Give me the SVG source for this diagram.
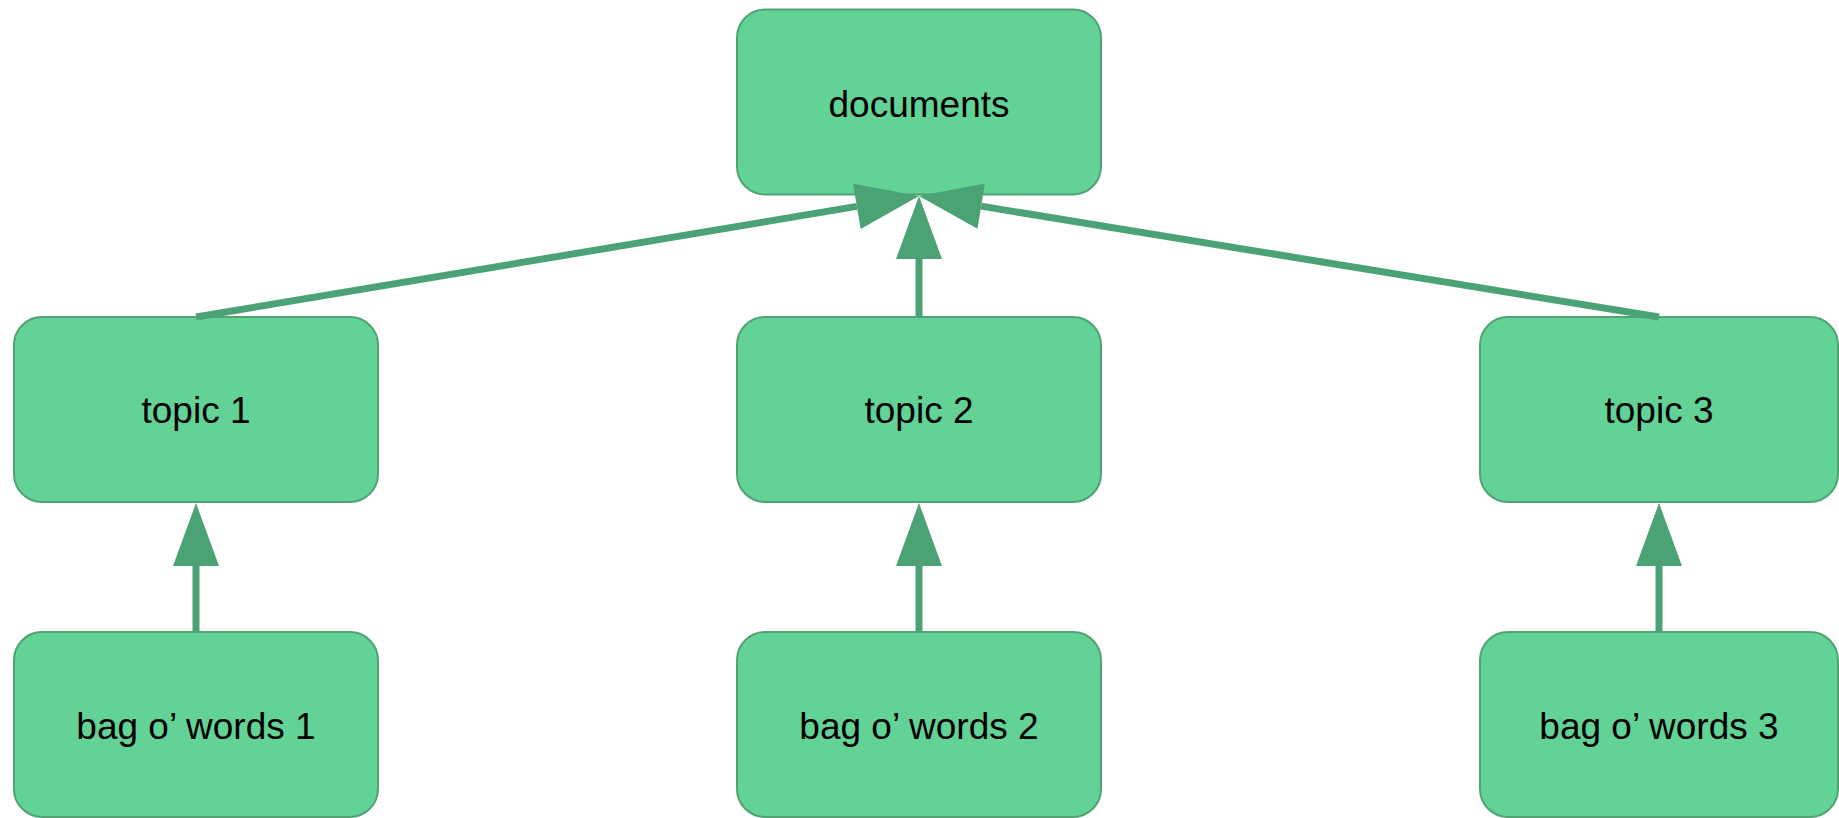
<svg xmlns="http://www.w3.org/2000/svg" width="1839" height="818" viewBox="0 0 1839 818">
<style>
.box{fill:#62D296;stroke:#52A374;stroke-width:2}
.lbl{font-family:"Liberation Sans",Arial,sans-serif;font-size:37px;fill:#000;text-anchor:middle}
.edge{stroke:#4BA274;stroke-width:7;fill:none}
</style>
<defs>
<marker id="ah" markerUnits="userSpaceOnUse" markerWidth="63" markerHeight="46" viewBox="0 -23 63 46" refX="0" refY="0" orient="auto" overflow="visible">
<path d="M0,-23 L63,0 L0,23 Z" fill="#4BA274"/>
</marker>
</defs>
<rect width="1839" height="818" fill="#fff"/>
<g id="documents"><rect class="box" x="737" y="9.5" width="364" height="185" rx="28"/><text class="lbl" x="919" y="117">documents</text></g>
<g id="topic1"><rect class="box" x="14" y="317" width="364" height="185" rx="28"/><text class="lbl" x="196" y="423">topic 1</text></g>
<g id="topic2"><rect class="box" x="737" y="317" width="364" height="185" rx="28"/><text class="lbl" x="919" y="423">topic 2</text></g>
<g id="topic3"><rect class="box" x="1480" y="317" width="358" height="185" rx="28"/><text class="lbl" x="1659" y="423">topic 3</text></g>
<g id="bag1"><rect class="box" x="14" y="632" width="364" height="185" rx="28"/><text class="lbl" x="196" y="738.5">bag o’ words 1</text></g>
<g id="bag2"><rect class="box" x="737" y="632" width="364" height="185" rx="28"/><text class="lbl" x="919" y="738.5">bag o’ words 2</text></g>
<g id="bag3"><rect class="box" x="1480" y="632" width="358" height="185" rx="28"/><text class="lbl" x="1659" y="738.5">bag o’ words 3</text></g>
<g id="connectors">
<line class="edge" x1="196" y1="317" x2="856.86" y2="206.4" marker-end="url(#ah)"/>
<line class="edge" x1="919" y1="317" x2="919" y2="259" marker-end="url(#ah)"/>
<line class="edge" x1="1659" y1="317" x2="981.17" y2="206.17" marker-end="url(#ah)"/>
<line class="edge" x1="196" y1="632" x2="196" y2="566" marker-end="url(#ah)"/>
<line class="edge" x1="919" y1="632" x2="919" y2="566" marker-end="url(#ah)"/>
<line class="edge" x1="1659" y1="632" x2="1659" y2="566" marker-end="url(#ah)"/>
</g>
</svg>
